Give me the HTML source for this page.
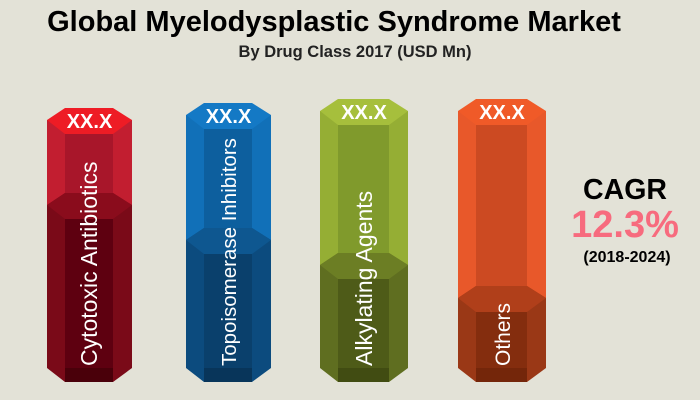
<!DOCTYPE html>
<html><head><meta charset="utf-8"><style>
body{margin:0;background:#e3e2d7;}
svg{display:block;font-family:"Liberation Sans",Arial,sans-serif;}
</style></head><body>
<svg width="700" height="400" viewBox="0 0 700 400">
<rect width="700" height="400" fill="#e3e2d7"/>
<text x="334" y="31" text-anchor="middle" font-size="29" font-weight="bold" fill="#000">Global Myelodysplastic Syndrome Market</text>
<text x="355" y="57" text-anchor="middle" font-size="16.5" font-weight="bold" fill="#222">By Drug Class 2017 (USD Mn)</text>

<!-- Col1 -->
<rect x="47" y="120" width="85" height="248" fill="#c21e30"/>
<rect x="65" y="134" width="48" height="248" fill="#a8162a"/>
<polygon points="47,205 65,193 113,193 132,205 132,368 113,382 65,382 47,368" fill="#7a0a18"/>
<polygon points="47,205 65,193 113,193 132,205 113,219 65,219" fill="#8a0c1c"/>
<rect x="65" y="219" width="48" height="163" fill="#5e0010"/>
<rect x="65" y="368" width="48" height="14" fill="#4a000a"/>
<polygon points="47,120 65,108 113,108 132,120 113,134 65,134" fill="#ee1c25"/>
<text x="89.5" y="128" text-anchor="middle" font-size="20" font-weight="bold" fill="#fff">XX.X</text>
<text transform="translate(97,366) rotate(-90)" font-size="23" fill="#fff">Cytotoxic Antibiotics</text>

<!-- Col2 -->
<rect x="186" y="115" width="85" height="253" fill="#1170b8"/>
<rect x="204" y="129" width="48" height="253" fill="#0d5f9e"/>
<polygon points="186,240 204,228 252,228 271,240 271,368 252,382 204,382 186,368" fill="#0c4b7e"/>
<polygon points="186,240 204,228 252,228 271,240 252,254 204,254" fill="#0e5790"/>
<rect x="204" y="254" width="48" height="128" fill="#0a406c"/>
<rect x="204" y="368" width="48" height="14" fill="#08355a"/>
<polygon points="186,115 204,103 252,103 271,115 252,129 204,129" fill="#1479c5"/>
<text x="228.5" y="123" text-anchor="middle" font-size="20" font-weight="bold" fill="#fff">XX.X</text>
<text transform="translate(236,366) rotate(-90)" font-size="20.5" fill="#fff">Topoisomerase Inhibitors</text>

<!-- Col3 -->
<rect x="320" y="111" width="88" height="257" fill="#95ae34"/>
<rect x="338" y="125" width="51" height="257" fill="#809a2c"/>
<polygon points="320,265 338,253 389,253 408,265 408,368 389,382 338,382 320,368" fill="#5f6e20"/>
<polygon points="320,265 338,253 389,253 408,265 389,279 338,279" fill="#6c7e24"/>
<rect x="338" y="279" width="51" height="103" fill="#4e5b18"/>
<rect x="338" y="368" width="51" height="14" fill="#414c12"/>
<polygon points="320,111 338,99 389,99 408,111 389,125 338,125" fill="#a6bf3c"/>
<text x="364" y="119" text-anchor="middle" font-size="20" font-weight="bold" fill="#fff">XX.X</text>
<text transform="translate(372,366) rotate(-90)" font-size="23" fill="#fff">Alkylating Agents</text>

<!-- Col4 -->
<rect x="458" y="111" width="88" height="257" fill="#e8582a"/>
<rect x="476" y="125" width="51" height="257" fill="#cc4a22"/>
<polygon points="458,298 476,286 527,286 546,298 546,368 527,382 476,382 458,368" fill="#9a3816"/>
<polygon points="458,298 476,286 527,286 546,298 527,312 476,312" fill="#b03f1a"/>
<rect x="476" y="312" width="51" height="70" fill="#842d0e"/>
<rect x="476" y="368" width="51" height="14" fill="#74260a"/>
<polygon points="458,111 476,99 527,99 546,111 527,125 476,125" fill="#f05a28"/>
<text x="502" y="119" text-anchor="middle" font-size="20" font-weight="bold" fill="#fff">XX.X</text>
<text transform="translate(510,366) rotate(-90)" font-size="21" fill="#fff">Others</text>

<!-- CAGR -->
<text x="625" y="199" text-anchor="middle" font-size="28.5" font-weight="bold" fill="#000">CAGR</text>
<text x="625" y="237" text-anchor="middle" font-size="38" font-weight="bold" fill="#f76b7e">12.3%</text>
<text x="627" y="262" text-anchor="middle" font-size="16" font-weight="bold" fill="#000">(2018-2024)</text>
</svg>
</body></html>
